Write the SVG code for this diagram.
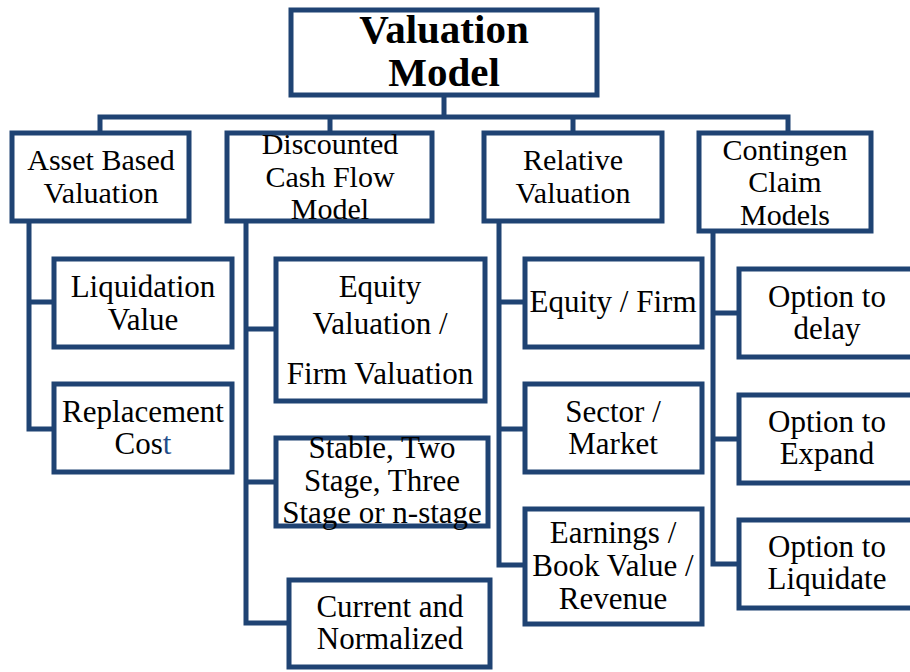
<svg xmlns="http://www.w3.org/2000/svg" width="910" height="672" viewBox="0 0 910 672">
<style>
.box{fill:#fff;stroke:#1F4373;stroke-width:5}
.ln{fill:none;stroke:#1F4373;stroke-width:5;stroke-linecap:square}
</style>
<rect width="910" height="672" fill="#fff"/>
<g id="connectors">
<path class="ln" d="M444 96V117M100 117H788M100 117V133M330 117V133M573 117V133M788 117V133"/>
<path class="ln" d="M29 222V429H54M29 302H54"/>
<path class="ln" d="M246 222V623H288M246 329H275M246 482H275"/>
<path class="ln" d="M499 222V565H525M499 302H525M499 429H525"/>
<path class="ln" d="M713 232V564H738M713 313H738M713 439H738"/>
</g>
<g id="root"><rect class="box" x="291" y="10" width="306" height="85"/><text font-family="Liberation Serif, serif" font-size="41" font-weight="bold" text-anchor="middle" x="444" y="43">Valuation</text><text font-family="Liberation Serif, serif" font-size="41" font-weight="bold" text-anchor="middle" x="444" y="86">Model</text></g>
<g id="asset"><rect class="box" x="12" y="133" width="177" height="88"/><text font-family="Liberation Serif, serif" font-size="30" text-anchor="middle" x="101" y="170">Asset Based</text><text font-family="Liberation Serif, serif" font-size="30" text-anchor="middle" x="101" y="203">Valuation</text></g>
<g id="dcf"><rect class="box" x="227" y="133" width="205" height="88"/><text font-family="Liberation Serif, serif" font-size="30" text-anchor="middle" x="330" y="154">Discounted</text><text font-family="Liberation Serif, serif" font-size="30" text-anchor="middle" x="330" y="187">Cash Flow</text><text font-family="Liberation Serif, serif" font-size="30" text-anchor="middle" x="330" y="219">Model</text></g>
<g id="relative"><rect class="box" x="484" y="133" width="178" height="88"/><text font-family="Liberation Serif, serif" font-size="30" text-anchor="middle" x="573" y="170">Relative</text><text font-family="Liberation Serif, serif" font-size="30" text-anchor="middle" x="573" y="203">Valuation</text></g>
<g id="contingent"><rect class="box" x="699" y="133" width="172" height="98"/><text font-family="Liberation Serif, serif" font-size="30" text-anchor="middle" x="785" y="160">Contingen</text><text font-family="Liberation Serif, serif" font-size="30" text-anchor="middle" x="785" y="192">Claim</text><text font-family="Liberation Serif, serif" font-size="30" text-anchor="middle" x="785" y="225">Models</text></g>
<g id="liquidation"><rect class="box" x="54" y="259" width="178" height="88"/><text font-family="Liberation Serif, serif" font-size="31" text-anchor="middle" x="143" y="297">Liquidation</text><text font-family="Liberation Serif, serif" font-size="31" text-anchor="middle" x="143" y="330">Value</text></g>
<g id="replacement"><rect class="box" x="54" y="384" width="178" height="88"/><text font-family="Liberation Serif, serif" font-size="31" text-anchor="middle" x="143" y="422">Replacement</text><text font-family="Liberation Serif, serif" font-size="31" text-anchor="middle" x="143" y="454">Cos<tspan fill="#1F4E8C">t</tspan></text></g>
<g id="equity-valuation"><rect class="box" x="276" y="259" width="209" height="142"/><text font-family="Liberation Serif, serif" font-size="31" text-anchor="middle" x="380" y="297">Equity</text><text font-family="Liberation Serif, serif" font-size="31" text-anchor="middle" x="380" y="334">Valuation /</text><text font-family="Liberation Serif, serif" font-size="31" text-anchor="middle" x="380" y="384">Firm Valuation</text></g>
<g id="stages"><rect class="box" x="276" y="438" width="212" height="88"/><text font-family="Liberation Serif, serif" font-size="31" text-anchor="middle" x="382" y="458">Stable, Two</text><text font-family="Liberation Serif, serif" font-size="31" text-anchor="middle" x="382" y="491">Stage, Three</text><text font-family="Liberation Serif, serif" font-size="31" text-anchor="middle" x="382" y="523">Stage or n-stage</text></g>
<g id="current"><rect class="box" x="289" y="580" width="201" height="87"/><text font-family="Liberation Serif, serif" font-size="31" text-anchor="middle" x="390" y="617">Current and</text><text font-family="Liberation Serif, serif" font-size="31" text-anchor="middle" x="390" y="649">Normalized</text></g>
<g id="equity-firm"><rect class="box" x="525" y="259" width="177" height="88"/><text font-family="Liberation Serif, serif" font-size="31" text-anchor="middle" x="613" y="312">Equity / Firm</text></g>
<g id="sector"><rect class="box" x="525" y="384" width="177" height="88"/><text font-family="Liberation Serif, serif" font-size="31" text-anchor="middle" x="613" y="422">Sector /</text><text font-family="Liberation Serif, serif" font-size="31" text-anchor="middle" x="613" y="454">Market</text></g>
<g id="earnings"><rect class="box" x="525" y="509" width="177" height="115"/><text font-family="Liberation Serif, serif" font-size="31" text-anchor="middle" x="613" y="543">Earnings /</text><text font-family="Liberation Serif, serif" font-size="31" text-anchor="middle" x="613" y="576">Book Value /</text><text font-family="Liberation Serif, serif" font-size="31" text-anchor="middle" x="613" y="609">Revenue</text></g>
<g id="delay"><rect class="box" x="739" y="269" width="180" height="88"/><text font-family="Liberation Serif, serif" font-size="31" text-anchor="middle" x="827" y="307">Option to</text><text font-family="Liberation Serif, serif" font-size="31" text-anchor="middle" x="827" y="339">delay</text></g>
<g id="expand"><rect class="box" x="739" y="395" width="180" height="88"/><text font-family="Liberation Serif, serif" font-size="31" text-anchor="middle" x="827" y="432">Option to</text><text font-family="Liberation Serif, serif" font-size="31" text-anchor="middle" x="827" y="464">Expand</text></g>
<g id="liquidate"><rect class="box" x="739" y="520" width="180" height="88"/><text font-family="Liberation Serif, serif" font-size="31" text-anchor="middle" x="827" y="557">Option to</text><text font-family="Liberation Serif, serif" font-size="31" text-anchor="middle" x="827" y="589">Liquidate</text></g>
</svg>
